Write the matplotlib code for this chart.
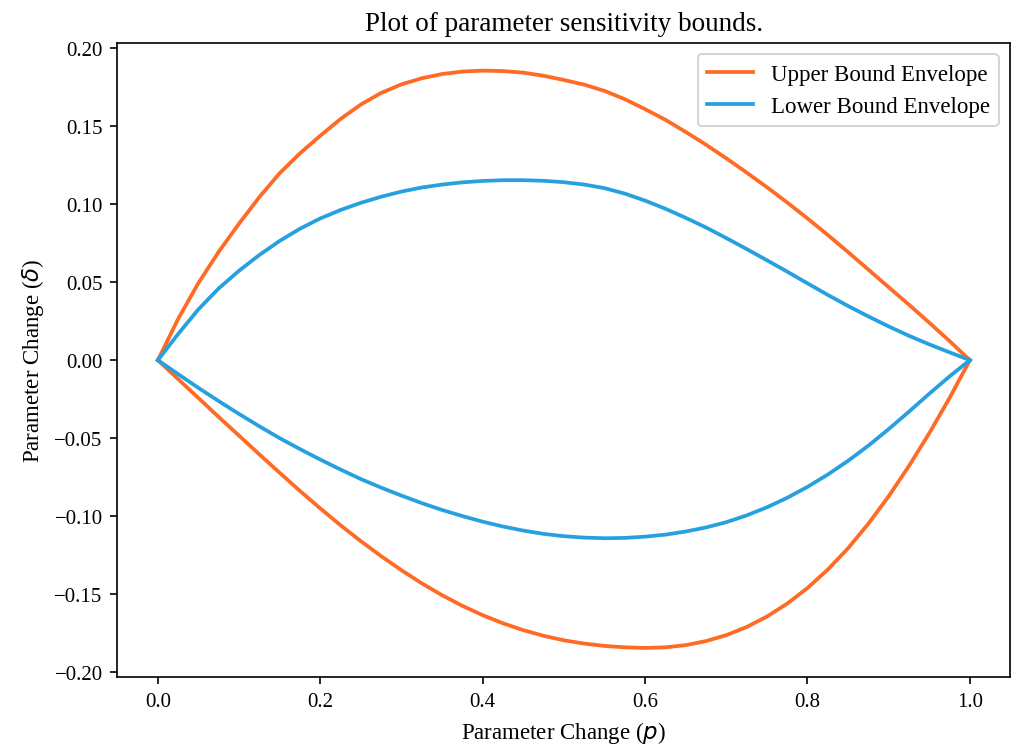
import matplotlib
matplotlib.use("Agg")
import matplotlib.pyplot as plt

plt.rcParams['font.family'] = ['Liberation Serif', 'DejaVu Serif']

p_vals = [0, 0.025, 0.05, 0.075, 0.1, 0.125, 0.15, 0.175, 0.2, 0.225, 0.25, 0.275, 0.3, 0.325,
          0.35, 0.375, 0.4, 0.425, 0.45, 0.475, 0.5, 0.525, 0.55, 0.575, 0.6, 0.625, 0.65, 0.675,
          0.7, 0.725, 0.75, 0.775, 0.8, 0.825, 0.85, 0.875, 0.9, 0.925, 0.95, 0.975, 1.0]

upper_top = [0, 0.0265, 0.0495, 0.0695, 0.0875, 0.1045, 0.1198, 0.1325, 0.1438, 0.1545, 0.1638,
             0.1712, 0.1767, 0.1806, 0.1833, 0.1849, 0.1855, 0.1852, 0.1842, 0.1822, 0.1795, 0.1765,
             0.1725, 0.1672, 0.1608, 0.1540, 0.1462, 0.1380, 0.1293, 0.1202, 0.1108, 0.1010, 0.0908,
             0.0802, 0.0692, 0.0580, 0.0467, 0.0355, 0.0240, 0.0122, 0]

upper_bot = [0, -0.0122, -0.0243, -0.0365, -0.0484, -0.0604, -0.0722, -0.0838, -0.0950, -0.1058,
             -0.1160, -0.1256, -0.1346, -0.1430, -0.1506, -0.1574, -0.1634, -0.1686, -0.1730, -0.1766,
             -0.1795, -0.1816, -0.1831, -0.1840, -0.1844, -0.1840, -0.1826, -0.1800, -0.1762, -0.1710,
             -0.1643, -0.1560, -0.1460, -0.1342, -0.1205, -0.1048, -0.0872, -0.0678, -0.0468, -0.0242, 0]

lower_top = [0, 0.0168, 0.0326, 0.0460, 0.0573, 0.0674, 0.0764, 0.0842, 0.0908, 0.0962, 0.1008,
             0.1047, 0.1080, 0.1106, 0.1125, 0.1139, 0.1148, 0.1153, 0.1153, 0.1149, 0.1140, 0.1125,
             0.1102, 0.1067, 0.1022, 0.0970, 0.0912, 0.0850, 0.0782, 0.0712, 0.0640, 0.0567, 0.0492,
             0.0418, 0.0347, 0.0280, 0.0216, 0.0156, 0.0101, 0.0050, 0]

lower_bot = [0, -0.0090, -0.0178, -0.0263, -0.0345, -0.0424, -0.0500, -0.0570, -0.0637, -0.0701,
             -0.0762, -0.0817, -0.0868, -0.0916, -0.0960, -0.0999, -0.1035, -0.1066, -0.1092, -0.1113,
             -0.1128, -0.1137, -0.1141, -0.1139, -0.1131, -0.1118, -0.1098, -0.1072, -0.1038, -0.0995,
             -0.0943, -0.0882, -0.0812, -0.0733, -0.0645, -0.0548, -0.0442, -0.0330, -0.0215, -0.0104, 0]

c_upper = '#ff6a24'
c_lower = '#27a0e0'

fig = plt.figure(figsize=(1012 / 150, 753 / 150), dpi=150)
ax = fig.add_axes([0.1159, 0.0992, 0.9985 - 0.1159, 0.9416 - 0.0992])

ax.plot(p_vals, upper_top, color=c_upper, lw=1.8, label='Upper Bound Envelope')
ax.plot(p_vals, upper_bot, color=c_upper, lw=1.8)
ax.plot(p_vals, lower_top, color=c_lower, lw=1.8, label='Lower Bound Envelope')
ax.plot(p_vals, lower_bot, color=c_lower, lw=1.8)

ax.set_title('Plot of parameter sensitivity bounds.', fontsize=13)
ax.set_xlabel('Parameter Change ($p$)', fontsize=11)
ax.set_ylabel('Parameter Change ($\\delta$)', fontsize=11)
ax.tick_params(labelsize=10)
ax.set_yticks([-0.20, -0.15, -0.10, -0.05, 0.00, 0.05, 0.10, 0.15, 0.20])
ax.set_ylim(-0.2032, 0.2032)
ax.set_xlim(-0.05, 1.05)
ax.legend(loc='upper right', fontsize=11)

fig.savefig('out.png', dpi=150)
